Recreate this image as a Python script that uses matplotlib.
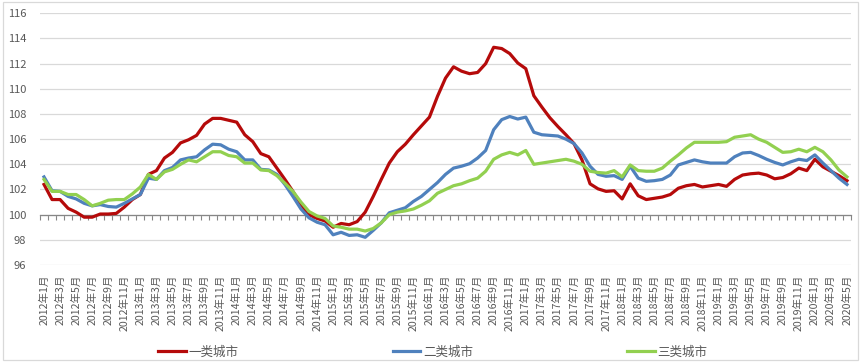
import numpy as np
import matplotlib
matplotlib.use("Agg")
import matplotlib.pyplot as plt
from matplotlib.patches import Rectangle

plt.rcParams['font.family'] = ['Noto Sans CJK SC', 'DejaVu Sans']

years = list(range(2012, 2021))
months = [f"{y}年{m}月" for y in years for m in range(1, 13)]
months = months[:101]  # 2012年1月 .. 2020年5月

tier1 = [102.4, 101.2, 101.2, 100.5, 100.2, 99.8, 99.8, 100.05, 100.05, 100.1,
         100.6, 101.2, 101.6, 103.2, 103.5, 104.5, 104.95, 105.7, 105.95, 106.3,
         107.2, 107.65, 107.65, 107.5, 107.35, 106.35, 105.8, 104.85, 104.6, 103.7,
         102.8, 101.85, 100.8, 100.0, 99.7, 99.5, 99.0, 99.3, 99.2, 99.45,
         100.2, 101.45, 102.8, 104.1, 105.0, 105.6, 106.35, 107.05, 107.75, 109.4,
         110.85, 111.75, 111.4, 111.2, 111.3, 112.0, 113.3, 113.2, 112.8, 112.05,
         111.6, 109.45, 108.55, 107.7, 107.0, 106.35, 105.65, 104.35, 102.45, 102.05,
         101.85, 101.9, 101.25, 102.45, 101.5, 101.2, 101.3, 101.4, 101.6, 102.1,
         102.3, 102.4, 102.2, 102.3, 102.4, 102.25, 102.8, 103.15, 103.25, 103.3,
         103.15, 102.85, 102.95, 103.25, 103.7, 103.5, 104.4, 103.8, 103.45, 103.1,
         102.7]

tier2 = [103.0, 101.9, 101.85, 101.45, 101.25, 100.9, 100.7, 100.8, 100.65, 100.6,
         100.9, 101.25, 101.6, 102.9, 102.8, 103.5, 103.75, 104.35, 104.5, 104.6,
         105.15, 105.6, 105.55, 105.2, 105.0, 104.35, 104.35, 103.6, 103.55, 103.2,
         102.4, 101.45, 100.45, 99.75, 99.4, 99.2, 98.4, 98.6, 98.35, 98.4,
         98.2, 98.75, 99.35, 100.15, 100.35, 100.55, 101.05, 101.45, 102.0, 102.55,
         103.2, 103.7, 103.85, 104.05, 104.5, 105.1, 106.75, 107.55, 107.8, 107.6,
         107.75, 106.55, 106.35, 106.3, 106.25, 106.0, 105.65, 104.9, 103.85, 103.2,
         103.05, 103.1, 102.8, 103.85, 102.9, 102.65, 102.7, 102.8, 103.15, 103.95,
         104.15, 104.35, 104.2, 104.1, 104.1, 104.1, 104.6, 104.9, 104.95, 104.7,
         104.4, 104.15, 103.95, 104.2, 104.4, 104.3, 104.75, 104.1, 103.5, 102.9,
         102.4]

tier3 = [102.8, 101.85, 101.85, 101.6, 101.6, 101.2, 100.7, 100.9, 101.15, 101.2,
         101.2, 101.65, 102.2, 103.2, 102.8, 103.4, 103.6, 104.0, 104.35, 104.2,
         104.6, 105.0, 105.0, 104.7, 104.6, 104.1, 104.1, 103.55, 103.5, 103.1,
         102.5, 101.85, 101.0, 100.25, 99.9, 99.7, 99.1, 99.0, 98.85, 98.85,
         98.7, 98.9, 99.35, 100.0, 100.2, 100.3, 100.45, 100.75, 101.1, 101.7,
         102.0, 102.3, 102.45, 102.7, 102.9, 103.45, 104.4, 104.75, 104.95, 104.75,
         105.1, 104.0, 104.1, 104.2, 104.3, 104.4, 104.25, 104.0, 103.45, 103.35,
         103.3, 103.5, 103.0, 103.95, 103.5, 103.45, 103.45, 103.7, 104.25, 104.75,
         105.3, 105.75, 105.75, 105.75, 105.75, 105.8, 106.15, 106.25, 106.35, 106.0,
         105.75, 105.35, 104.95, 105.0, 105.2, 105.0, 105.35, 105.0, 104.35, 103.55,
         103.0]

series_names = ["一类城市", "二类城市", "三类城市"]
colors = ["#B50A0A", "#4F81BD", "#92D050"]
yticks = list(range(96, 117, 2))

W, H = 861, 363
fig = plt.figure(figsize=(W / 100, H / 100), dpi=100)
ax = fig.add_axes([40 / W, 1 - 265 / H, (851 - 40) / W, (265 - 13.3) / H])

x = np.arange(len(months))
for vals, name, c in zip([tier1, tier2, tier3], series_names, colors):
    ax.plot(x, vals, color=c, lw=2.3, label=name, solid_joinstyle='round', zorder=3)

ax.set_xlim(-0.5, len(months) - 0.5)
ax.set_ylim(96, 116)
ax.set_yticks(yticks)
ax.yaxis.grid(True, color="#D9D9D9", lw=0.9)
ax.set_axisbelow(True)
ax.tick_params(axis='y', length=0, labelsize=8, labelcolor="#595959", pad=10)
for s in ['left', 'right', 'top']:
    ax.spines[s].set_visible(False)

# horizontal category axis crosses at 100
ax.spines['bottom'].set_position(('data', 100))
ax.spines['bottom'].set_color("#868686")
ax.spines['bottom'].set_linewidth(0.9)
ax.set_xticks(np.arange(-0.5, len(months), 1))
ax.set_xticklabels([])
ax.tick_params(axis='x', direction='out', length=3.5, color="#868686", width=0.8)

# labels at bottom (low position)
sec = ax.secondary_xaxis('bottom')
sec.set_xticks(x[::2])
sec.set_xticklabels(months[::2], rotation=90, fontsize=7.6, color="#595959",
                    va='top', ha='center')
sec.tick_params(length=0, pad=7)
sec.spines['bottom'].set_visible(False)

handles, labels = ax.get_legend_handles_labels()
leg = fig.legend(handles, labels, loc='center', bbox_to_anchor=(433 / W, 1 - 352 / H),
                 ncol=3, frameon=False, fontsize=9, handlelength=2.2,
                 handletextpad=0.25, columnspacing=12.3)
for t in leg.get_texts():
    t.set_color("#595959")

fig.patches.append(Rectangle((3 / W, 3 / H), (858 - 3) / W, (361 - 3) / H,
                             transform=fig.transFigure, fill=False,
                             edgecolor="#D9D9D9", lw=0.9))

fig.savefig("out.png", dpi=100, facecolor="white")
